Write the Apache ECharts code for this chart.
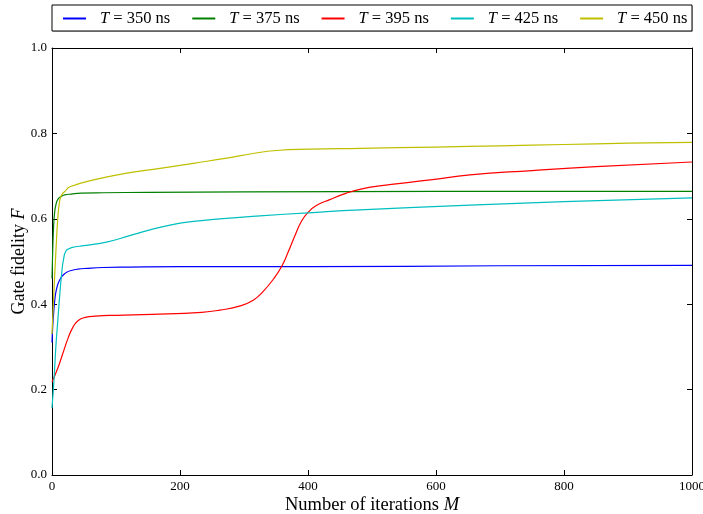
<!DOCTYPE html>
<html>
<head>
<meta charset="utf-8">
<script src="https://cdn.jsdelivr.net/npm/echarts@6/dist/echarts.min.js"></script>
<style>html,body{margin:0;padding:0;background:#fff}#c{width:703px;height:514px}</style>
</head>
<body>
<div id="c"></div>
<script>
// ---- data ----
const seriesNames = ['350', '375', '395', '425', '450'];

const m350 = [0, 1, 2.5, 5, 7.5, 10, 14, 18, 23, 30, 40, 55, 80, 120, 200, 400, 700, 1000];
const f350 = [0.31, 0.345, 0.378, 0.418, 0.438, 0.45, 0.462, 0.469, 0.475, 0.479, 0.482, 0.484, 0.486, 0.487, 0.488, 0.488, 0.490, 0.491];

const m375 = [0, 1, 2, 3, 4.5, 6, 8, 11, 15, 20, 30, 46, 80, 150, 300, 600, 1000];
const f375 = [0.46, 0.52, 0.565, 0.595, 0.62, 0.632, 0.642, 0.649, 0.653, 0.656, 0.658, 0.660, 0.661, 0.662, 0.663, 0.664, 0.664];

const m395 = [0, 9, 17, 25, 33, 41, 52, 68, 100, 156, 234, 262, 294, 315, 330, 346, 359, 369, 380, 390, 400, 413, 434, 460, 481, 512, 591, 653, 750, 850, 1000];
const f395 = [0.218, 0.25, 0.285, 0.32, 0.347, 0.362, 0.369, 0.372, 0.374, 0.376, 0.381, 0.386, 0.396, 0.410, 0.430, 0.459, 0.489, 0.522, 0.562, 0.595, 0.615, 0.631, 0.645, 0.660, 0.669, 0.677, 0.691, 0.703, 0.713, 0.722, 0.733];

const m425 = [0, 3, 6, 9, 12, 15, 18, 22, 28, 35, 50, 87, 120, 153, 190, 221, 262, 325, 400, 481, 653, 800, 1000];
const f425 = [0.157, 0.22, 0.30, 0.36, 0.42, 0.47, 0.505, 0.525, 0.531, 0.534, 0.537, 0.546, 0.56, 0.574, 0.587, 0.594, 0.600, 0.607, 0.614, 0.621, 0.632, 0.64, 0.649];

const m450 = [0, 3, 6.5, 9, 11.7, 14, 17, 20, 28, 65, 117, 169, 221, 273, 314, 351, 403, 481, 600, 700, 800, 900, 1000];
const f450 = [0.33, 0.43, 0.535, 0.60, 0.640, 0.653, 0.66, 0.664, 0.675, 0.691, 0.707, 0.718, 0.730, 0.742, 0.753, 0.760, 0.763, 0.765, 0.768, 0.771, 0.774, 0.777, 0.779];

const xTicks = [0, 200, 400, 600, 800, 1000];
const yTicks = [0.0, 0.2, 0.4, 0.6, 0.8, 1.0];

const colors = ['#0000ff', '#008000', '#ff0000', '#00bfbf', '#bfbf00'];
const allM = [m350, m375, m395, m425, m450];
const allF = [f350, f375, f395, f425, f450];

const serif = "'Liberation Serif', 'DejaVu Serif', serif";

const chart = echarts.init(document.getElementById('c'), null, {renderer: 'canvas'});

const series = seriesNames.map((n, i) => ({
  name: n,
  type: 'line',
  xAxisIndex: 0, yAxisIndex: 0,
  data: allM[i].map((m, k) => [m, allF[i][k]]),
  showSymbol: false,
  symbol: 'none',
  smooth: 0.5,
  lineStyle: {color: colors[i], width: 1.2},
  itemStyle: {color: colors[i]},
  animation: false,
  z: 2
}));

const tickCommon = {show: true, inside: true, length: 5, lineStyle: {color: '#000', width: 1}};

chart.setOption({
  animation: false,
  grid: {left: 52, right: 11, top: 48, bottom: 39, containLabel: false, outerBoundsMode: 'none'},
  legend: {
    left: 63, top: 10,
    itemWidth: 23, itemHeight: 2, itemGap: 22,
    icon: 'rect',
    padding: 0,
    data: seriesNames,
    formatter: n => `{sp|}{i|T}{n| = ${n} ns}`,
    textStyle: {
      fontFamily: serif, fontSize: 16.5, color: '#000', width: 81,
      rich: {
        sp: {width: 9},
        i: {fontFamily: serif, fontStyle: 'italic', fontSize: 16.5, color: '#000'},
        n: {fontFamily: serif, fontSize: 16.5, color: '#000'}
      }
    }
  },
  graphic: [
    {type: 'rect', shape: {x: 53, y: 6, width: 640, height: 26}, style: {fill: '#c8c8c8', stroke: null}, z: -2, silent: true},
    {type: 'rect', shape: {x: 52, y: 5, width: 640, height: 26}, style: {fill: '#fff', stroke: '#000', lineWidth: 1}, z: -1, silent: true}
  ],
  xAxis: [
    {
      type: 'value', min: 0, max: 1000, interval: 200,
      axisLine: {show: true, onZero: false, lineStyle: {color: '#000', width: 1}},
      axisTick: tickCommon,
      splitLine: {show: false},
      axisLabel: {color: '#000', fontFamily: serif, fontSize: 13, margin: 5,
        formatter: v => String(v)},
      name: 'Number of iterations {i|M}',
      nameLocation: 'middle', nameGap: 21, nameMoveOverlap: false,
      nameTextStyle: {fontFamily: serif, fontSize: 18.5, color: '#000',
        rich: {i: {fontFamily: serif, fontStyle: 'italic', fontSize: 18.5, color: '#000'}}}
    },
    {
      type: 'value', position: 'top', min: 0, max: 1000, interval: 200,
      axisLine: {show: true, onZero: false, lineStyle: {color: '#000', width: 1}},
      axisTick: tickCommon, axisLabel: {show: false}, splitLine: {show: false}
    }
  ],
  yAxis: [
    {
      type: 'value', min: 0, max: 1, interval: 0.2,
      axisLine: {show: true, onZero: false, lineStyle: {color: '#000', width: 1}},
      axisTick: tickCommon,
      splitLine: {show: false},
      axisLabel: {color: '#000', fontFamily: serif, fontSize: 13, margin: 5,
        formatter: v => v.toFixed(1)},
      name: 'Gate fidelity {i|F}',
      nameLocation: 'middle', nameGap: 24, nameMoveOverlap: false,
      nameTextStyle: {fontFamily: serif, fontSize: 18, color: '#000',
        rich: {i: {fontFamily: serif, fontStyle: 'italic', fontSize: 18, color: '#000'}}}
    },
    {
      type: 'value', position: 'right', min: 0, max: 1, interval: 0.2,
      axisLine: {show: true, onZero: false, lineStyle: {color: '#000', width: 1}},
      axisTick: tickCommon, axisLabel: {show: false}, splitLine: {show: false}
    }
  ],
  series: series
});
</script>
</body>
</html>
